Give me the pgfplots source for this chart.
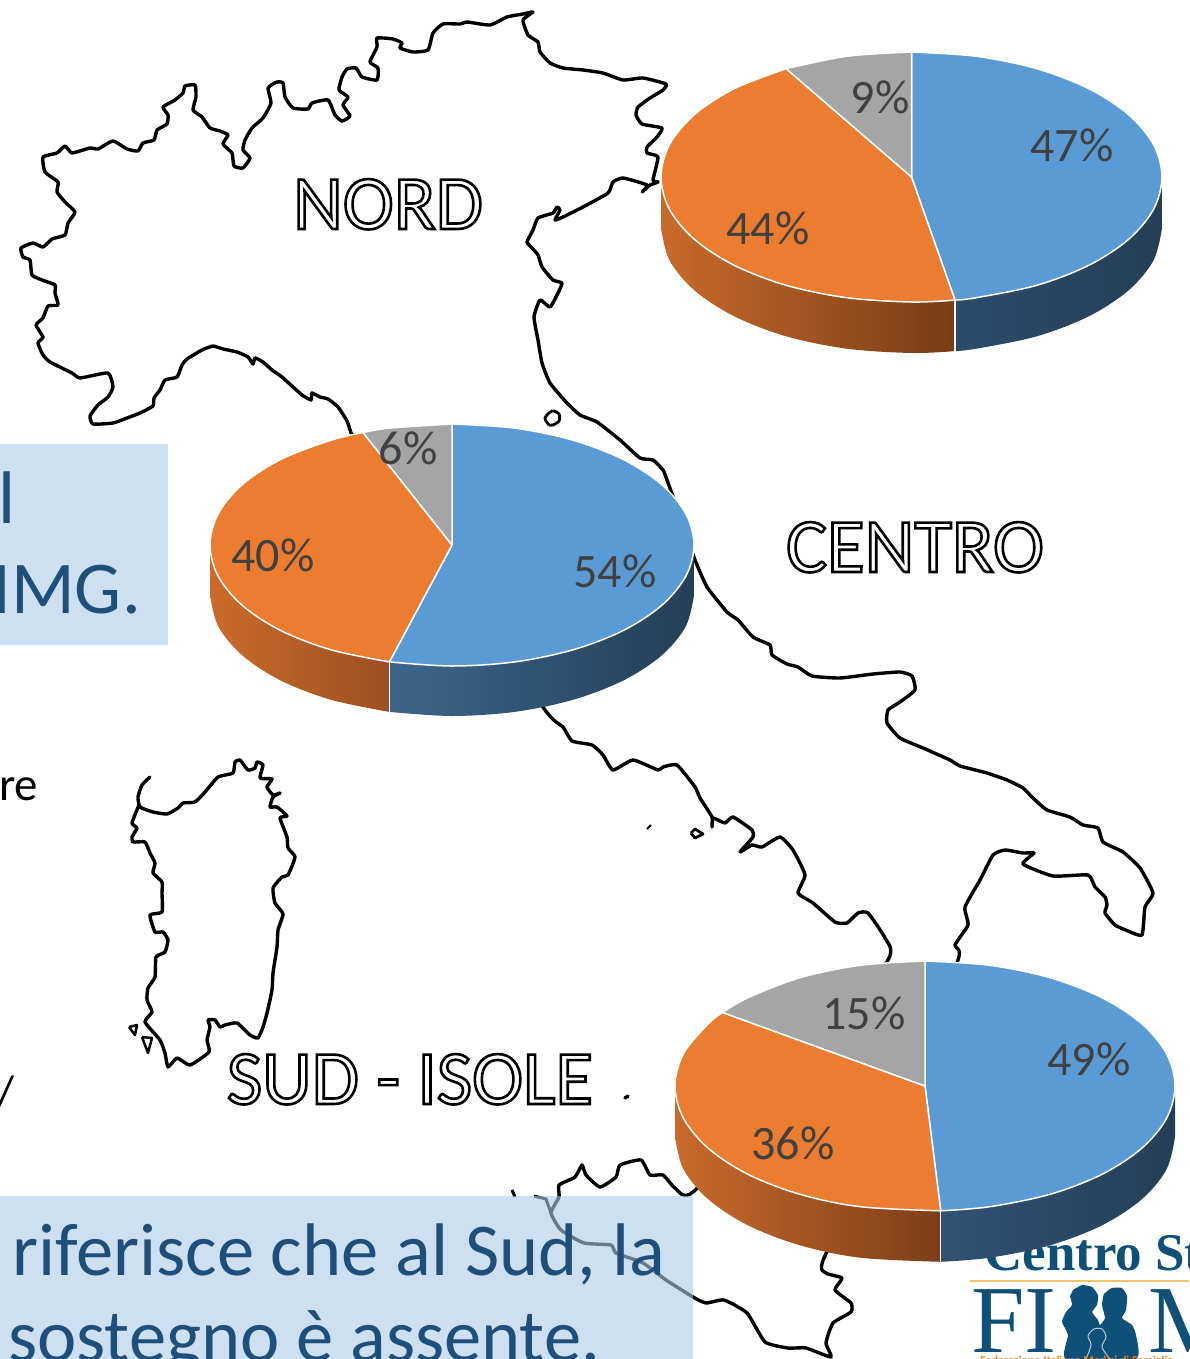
\documentclass[border=0pt]{standalone}
\usepackage{fontspec}
\setmainfont{Carlito}
\newfontfamily\serifl{Liberation Serif}
\usepackage{pgfplots}
\pgfplotsset{compat=1.18}
\newcommand\outl[1]{\special{pdf:code q 1 Tr 2.6 w}#1\special{pdf:code Q}}
\definecolor{pblue}{HTML}{5B9BD5}
\definecolor{porange}{HTML}{EB7C30}
\definecolor{pgray}{HTML}{A5A5A5}
\definecolor{lab}{HTML}{404040}
\definecolor{boxfill}{RGB}{172,203,232}
\definecolor{dtext}{HTML}{1F4E79}
\definecolor{logo}{HTML}{0F5078}
\definecolor{wallblue}{RGB}{36,62,86}
\newcommand\labfont{\fontsize{48}{50}\selectfont}
\newcommand\bigfont{\fontsize{74.5}{80}\selectfont}
\pgfplotsset{
 slice/.style={draw=white,line width=1.5pt,smooth,tension=0.55,line join=round},
 wall/.style={draw=none,smooth,tension=0.55},
 coast/.style={black,line width=3.4pt,line join=round,line cap=round,smooth,tension=0.3},
}
\begin{document}
\begin{tikzpicture}[x=1pt,y=1pt]
\useasboundingbox (0,0) rectangle (1189,1359);
\clip (0,0) rectangle (1189,1359);
\begin{axis}[at={(0,0)},anchor=south west,x=1pt,y=1pt,xmin=0,xmax=1189,ymin=0,ymax=1359,
 y dir=reverse,hide axis,clip=false]
% ---- map
\addplot[coast] coordinates {
(351,433)(347,421)(338,407)(328,399)(320,397)(312,393)(311,400)(302,395)(293,387)(282,377)(272,370)(263,362)(255,358)(253,364)(248,357)(237,352)(223,349)(213,346)(202,350)(187,359)(182,365)(177,377)(165,380)(160,390)(154,398)(153,406)(140,413)(127,418)(113,423)(93,424)(90,416)(98,405)(108,397)(113,387)(108,373)(80,378)(72,373)(50,362)(43,355)(38,343)(43,337)(36,325)(43,318)(48,306)(58,305)(55,293)(55,285)(42,280)(32,275)(30,260)(23,257)(21,248)(33,243)(43,247)(52,239)(65,235)(68,223)(75,212)(65,202)(57,192)(58,182)(45,172)(43,157)(57,153)(65,146)(72,153)(90,148)(98,149)(113,141)(127,149)(138,151)(143,143)(154,140)(157,130)(167,124)(168,115)(163,107)(175,100)(183,93)(185,86)(195,85)(196,97)(193,110)(202,117)(210,128)(220,131)(228,135)(223,144)(232,153)(234,166)(243,168)(250,158)(243,150)(245,140)(252,128)(263,118)(271,103)(268,88)(277,82)(283,83)(285,97)(293,108)(308,109)(312,103)(328,100)(335,115)(342,121)(350,116)(343,105)(348,97)(339,90)(342,77)(347,69)(356,68)(362,77)(377,80)(378,68)(370,62)(377,47)(377,38)(393,39)(402,43)(400,48)(413,52)(428,50)(433,33)(443,24)(460,24)(467,22)(490,25)(507,17)(523,14)(533,12)(523,20)(528,35)(538,42)(540,52)(550,63)(563,68)(583,70)(603,73)(623,80)(643,78)(666,84)(663,90)(650,98)(638,107)(636,115)(642,124)(662,128)(657,137)(647,147)(647,153)(658,157)(653,180)(658,182)(650,185)(642,192)(647,185)(623,178)(613,182)(608,193)(583,207)(563,217)(555,220)(560,210)(557,207)(553,213)(538,218)(533,230)(527,242)(532,248)(538,255)(542,267)(553,280)(562,283)(558,293)(550,307)(540,300)(534,317)(538,340)(542,363)(550,383)(567,403)(580,415)(597,422)(620,440)(640,458)(653,460)(663,470)(667,480)(685,530)(695,560)(707,587)(727,612)(738,620)(753,637)(770,645)(772,655)(787,664)(798,667)(812,676)(840,678)(873,674)(900,672)(912,676)(915,690)(900,702)(888,710)(887,723)(900,738)(923,748)(950,760)(960,766)(987,773)(1007,780)(1023,788)(1033,798)(1047,810)(1070,817)(1083,825)(1098,828)(1103,842)(1123,852)(1140,868)(1153,893)(1145,907)(1142,935)(1128,931)(1115,925)(1105,913)(1107,905)(1105,897)(1095,887)(1088,875)(1053,876)(1023,864)(1034,853)(1023,853)(1005,850)(993,855)(980,880)(965,907)(968,925)(955,945)(958,960)(900,1100)(824,1258)(826,1273)(842,1278)(835,1290)(851,1303)(851,1312)(833,1323)(826,1343)(831,1357)(806,1348)(788,1348)(765,1342)(747,1313)(724,1300)(706,1303)(693,1297)(666,1280)(643,1263)(616,1253)(611,1245)(584,1243)(561,1230)(551,1213)(559,1197)(559,1185)(575,1177)(582,1165)(586,1175)(600,1187)(616,1177)(620,1165)(641,1160)(650,1175)(663,1175)(675,1188)(693,1192)(800,1080)(888,960)(885,938)(868,913)(858,913)(847,923)(835,922)(813,903)(798,893)(805,875)(793,850)(780,837)(762,847)(752,845)(740,852)(753,837)(752,830)(733,817)(725,823)(713,818)(712,827)(712,817)(700,798)(695,787)(677,765)(663,767)(658,770)(633,760)(613,770)(603,755)(592,745)(572,741)(563,727)(545,710)(450,570)(351,433)
};
% Sardinia
\addplot[coast] coordinates {
(150,777)(142,785)(138,797)(140,807)(153,812)(167,814)(178,808)(183,803)(195,802)(205,792)(218,777)(233,773)(235,762)(240,760)(248,770)(255,768)(257,762)(263,765)(260,778)(272,779)(267,787)(273,795)(280,793)(273,797)(270,807)(277,807)(287,816)(280,818)(287,837)(288,848)(295,857)(288,875)(282,877)(273,888)(275,903)(283,914)(278,930)(277,947)(273,973)(272,990)(267,1013)(263,1027)(258,1038)(250,1035)(237,1023)(225,1025)(220,1027)(215,1020)(208,1020)(210,1027)(207,1040)(209,1052)(190,1065)(177,1058)(168,1067)(165,1053)(160,1040)(145,1022)(152,1012)(147,1000)(148,988)(155,977)(156,957)(165,952)(168,940)(163,932)(155,932)(150,915)(162,912)(162,893)(162,882)(153,873)(155,863)(150,853)(145,842)(133,842)(132,837)(137,828)(132,823)(139,805)
};
% islands and small marks
\addplot[black,line width=2.5pt,line join=round] coordinates {(129,1027)(137,1025)(135,1035)(129,1027)};
\addplot[black,line width=2.5pt,line join=round] coordinates {(142,1037)(152,1038)(148,1053)(142,1037)};
\addplot[black,line width=2.8pt,smooth] coordinates {(549,425)(545,418)(552,411)(559,414)(559,421)(553,425)(549,425)};
\addplot[black,line width=2.8pt,line join=round] coordinates {(691,833)(695,829)(703,834)(695,838)(691,833)};
\addplot[black,line width=2pt] coordinates {(647,829)(651,825)};
\addplot[black,line width=3.5pt,line cap=round] coordinates {(625,1098)(628,1096)};
\addplot[black,line width=3pt] coordinates {(512,1190)(515,1197)};
\addplot[black,line width=3pt] coordinates {(534,1196)(546,1199)(551,1213)};
% ---- panels
\addplot[fill=boxfill,draw=none,fill opacity=0.6] coordinates {(0,444)(168,444)(168,645)(0,645)} -- cycle;
\addplot[fill=boxfill,draw=none,fill opacity=0.6] coordinates {(0,1196)(693,1196)(693,1359)(0,1359)} -- cycle;
\node[anchor=base west,inner sep=0,font=\bigfont,text=dtext] at (axis cs:-2,523) {l};
\node[anchor=base east,inner sep=0,font=\bigfont,text=dtext] at (axis cs:141,613) {IMG.};
\node[anchor=base west,inner sep=0,font=\fontsize{47}{50}\selectfont] at (axis cs:-1,800) {re};
\node[anchor=base west,inner sep=0,font=\fontsize{44}{48}\selectfont] at (axis cs:-3,1106) {/};
\node[anchor=base west,inner sep=0,font=\bigfont,text=dtext] at (axis cs:12,1275) {riferisce che al Sud, la};
\node[anchor=base west,inner sep=0,font=\bigfont,text=dtext] at (axis cs:8,1361) {sostegno è assente.};
% ---- logo
\node[anchor=base west,inner sep=0,font=\serifl\bfseries\fontsize{53}{56}\selectfont,text=logo] at (axis cs:984,1270) {Centro St};
\addplot[color={rgb,255:red,240;green,195;blue,106},line width=2.5pt] coordinates {(970,1281)(1189,1281)};
\node[anchor=base west,inner sep=0,font=\serifl\fontsize{96}{98}\selectfont,text=logo] at (axis cs:971,1352) {FI};
\node[anchor=base west,inner sep=0,font=\serifl\fontsize{96}{98}\selectfont,text=logo] at (axis cs:1148,1352) {M};
\addplot[fill=logo,draw=none,smooth,tension=0.3] coordinates {(1073,1290)(1082,1285)(1092,1287)(1098,1295)(1097,1305)(1092,1312)(1098,1320)(1100,1325)(1105,1318)(1102,1305)(1104,1294)(1112,1288)(1122,1288)(1127,1296)(1126,1310)(1122,1318)(1132,1325)(1136,1335)(1136,1359)(1066,1359)(1068,1335)(1062,1322)(1066,1312)(1072,1305)(1070,1296)} -- cycle;
\addplot[color=white!70!logo,line width=1pt,smooth] coordinates {(1086,1359)(1091,1345)(1088,1336)(1094,1329)(1102,1329)(1106,1337)(1102,1347)(1110,1359)};
\node[anchor=base west,inner sep=0,font=\bfseries\fontsize{12}{14}\selectfont,text=orange!80!brown] at (axis cs:980,1364) {Federazione Italiana Medici di Famiglia};
% ---- NORD pie
\addplot[wall,left color={rgb,255:red,44;green,76;blue,107},middle color=wallblue,right color=wallblue] coordinates {(1162,228)(1153.5,260.4)(1128.4,290.5)(1088.6,316.4)(1036.8,336.3)(976.3,348.7)(955,351.1)} -- (axis cs:955,177) -- (axis cs:1162,177) -- cycle;
\addplot[wall,left color={rgb,255:red,201;green,106;blue,43},right color={rgb,255:red,120;green,60;blue,22}] coordinates {(955,351.1)(911.5,353)(846.7,348.7)(786.2,336.3)(734.4,316.4)(694.6,290.5)(669.5,260.4)(661,228)} -- (axis cs:661,177) -- (axis cs:955,177) -- cycle;
\addplot[white,line width=1.5pt] coordinates {(955,300)(955,352)};
\addplot[slice,fill=pblue] coordinates {(911.5,52)(976.3,56.3)(1036.8,68.7)(1088.6,88.6)(1128.4,114.5)(1153.5,144.6)(1162,177)(1153.5,209.4)(1128.4,239.5)(1088.6,265.4)(1036.8,285.3)(976.3,297.7)(955,300.1)} -- (axis cs:911.5,177) -- cycle;
\addplot[slice,fill=porange] coordinates {(955,300.1)(911.5,302)(846.7,297.7)(786.2,285.3)(734.4,265.4)(694.6,239.5)(669.5,209.4)(661,177)(669.5,144.6)(694.6,114.5)(734.4,88.6)(786.2,68.7)} -- (axis cs:911.5,177) -- cycle;
\addplot[slice,fill=pgray] coordinates {(786.2,68.7)(846.7,56.3)(911.5,52)} -- (axis cs:911.5,177) -- cycle;
\node[font=\labfont,text=lab,inner sep=0] at (axis cs:1072,145) {47\%};
\node[font=\labfont,text=lab,inner sep=0] at (axis cs:768,228) {44\%};
\node[font=\labfont,text=lab,inner sep=0] at (axis cs:880,97) {9\%};
% ---- CENTRO pie
\addplot[wall,left color={rgb,255:red,61;green,102;blue,140},middle color=wallblue,right color=wallblue] coordinates {(694,595)(685.8,626.3)(661.6,655.5)(623.1,680.6)(573,699.8)(514.6,711.9)(452,716)(389.4,711.9)} -- (axis cs:389.4,545) -- (axis cs:694,545) -- cycle;
\addplot[wall,left color={rgb,255:red,202;green,107;blue,43},right color={rgb,255:red,156;green,80;blue,32}] coordinates {(389.4,711.9)(331,699.8)(280.9,680.6)(242.4,655.5)(218.2,626.3)(210,595)} -- (axis cs:210,545) -- (axis cs:389.4,545) -- cycle;
\addplot[white,line width=1.5pt] coordinates {(389.4,662)(389.4,712.5)};
\addplot[slice,fill=pblue] coordinates {(452,424)(514.6,428.1)(573,440.2)(623.1,459.4)(661.6,484.5)(685.8,513.7)(694,545)(685.8,576.3)(661.6,605.5)(623.1,630.6)(573,649.8)(514.6,661.9)(452,666)(389.4,661.9)} -- (axis cs:452,545) -- cycle;
\addplot[slice,fill=porange] coordinates {(389.4,661.9)(331,649.8)(280.9,630.6)(242.4,605.5)(218.2,576.3)(210,545)(218.2,513.7)(242.4,484.5)(280.9,459.4)(331,440.2)(363,432.5)} -- (axis cs:452,545) -- cycle;
\addplot[slice,fill=pgray] coordinates {(363,432.5)(389.4,428.1)(452,424)} -- (axis cs:452,545) -- cycle;
\node[font=\labfont,text=lab,inner sep=0] at (axis cs:615,571) {54\%};
\node[font=\labfont,text=lab,inner sep=0] at (axis cs:273,555) {40\%};
\node[font=\labfont,text=lab,inner sep=0] at (axis cs:408,448) {6\%};
% ---- SUD pie
\addplot[wall,left color={rgb,255:red,50;green,82;blue,115},middle color=wallblue,right color=wallblue] coordinates {(1175,1137)(1166.5,1169.4)(1141.5,1199.5)(1101.8,1225.4)(1050,1245.3)(989.7,1257.7)(940.7,1261.8)} -- (axis cs:940.7,1086) -- (axis cs:1175,1086) -- cycle;
\addplot[wall,left color={rgb,255:red,201;green,106;blue,43},right color={rgb,255:red,125;green,62;blue,24}] coordinates {(940.7,1261.8)(860.3,1257.7)(800,1245.3)(748.2,1225.4)(708.5,1199.5)(683.5,1169.4)(675,1137)} -- (axis cs:675,1086) -- (axis cs:940.7,1086) -- cycle;
\addplot[white,line width=1.5pt] coordinates {(940.7,1211)(940.7,1262.5)};
\addplot[slice,fill=pblue] coordinates {(925,961)(989.7,965.3)(1050,977.7)(1101.8,997.6)(1141.5,1023.5)(1166.5,1053.6)(1175,1086)(1166.5,1118.4)(1141.5,1148.5)(1101.8,1174.4)(1050,1194.3)(989.7,1206.7)(940.7,1210.8)} -- (axis cs:925,1086) -- cycle;
\addplot[slice,fill=porange] coordinates {(940.7,1210.8)(860.3,1206.7)(800,1194.3)(748.2,1174.4)(708.5,1148.5)(683.5,1118.4)(675,1086)(683.5,1053.6)(708.5,1023.5)(722.7,1012.5)} -- (axis cs:925,1086) -- cycle;
\addplot[slice,fill=pgray] coordinates {(722.7,1012.5)(748.2,997.6)(800,977.7)(860.3,965.3)(925,961)} -- (axis cs:925,1086) -- cycle;
\node[font=\labfont,text=lab,inner sep=0] at (axis cs:1089,1059) {49\%};
\node[font=\labfont,text=lab,inner sep=0] at (axis cs:793,1143) {36\%};
\node[font=\labfont,text=lab,inner sep=0] at (axis cs:864,1013) {15\%};
% ---- region names
\node[anchor=base,inner sep=0,font=\fontsize{77}{80}\selectfont,text=black] at (axis cs:388,229) {\outl{NORD}};
\node[anchor=base,inner sep=0,font=\fontsize{77}{80}\selectfont,text=black] at (axis cs:915,572) {\outl{CENTRO}};
\node[anchor=base,inner sep=0,font=\fontsize{77}{80}\selectfont,text=black] at (axis cs:410,1104) {\outl{SUD - ISOLE}};
\end{axis}
\end{tikzpicture}
\end{document}
